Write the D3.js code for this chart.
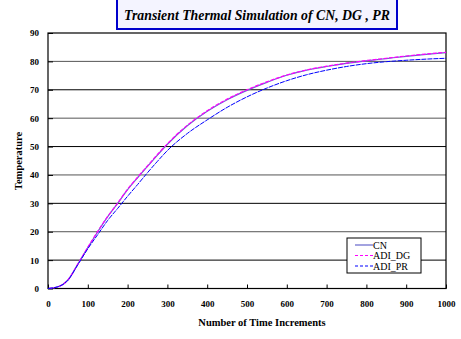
<!DOCTYPE html>
<html>
<head>
<meta charset="utf-8">
<script src="https://cdn.jsdelivr.net/npm/d3@7"></script>
<style>
  body { margin: 0; background: #fff; }
  text { font-family: "Liberation Serif", "Times New Roman", serif; }
</style>
</head>
<body>
<svg id="chart" width="461" height="339"></svg>
<script>
"use strict";

// time increments sampled
const steps = [0, 25, 50, 75, 100, 125, 150, 175, 200, 225, 250, 275, 300, 350, 400,
               450, 500, 550, 600, 650, 700, 750, 800, 850, 900, 950, 1000];

// CN and ADI_DG practically overlap
const cn    = [0, 0.6, 3, 8.6, 14.4, 20, 25.3, 30, 34.8, 39, 43, 47, 50.8, 57.3, 62.4,
               66.5, 69.8, 72.6, 75.1, 76.9, 78.2, 79.3, 80.2, 81.0, 81.8, 82.5, 83.1];
const adiDG = [0, 0.6, 3, 8.6, 14.5, 20.1, 25.4, 30.1, 35, 39.2, 43.2, 47.2, 51, 57.5, 62.6,
               66.7, 70, 72.8, 75.2, 77, 78.3, 79.4, 80.3, 81.1, 81.9, 82.6, 83.2];
const adiPR = [0, 0.6, 2.9, 8.4, 14, 19, 24, 28.2, 32.5, 36.6, 40.8, 44.8, 48.6, 54.6, 59.4,
               63.8, 67.5, 70.6, 73.2, 75.3, 76.9, 78.2, 79.2, 79.9, 80.4, 80.8, 81.1];

const series = [
  { name: "CN",     values: cn,    color: "#6666cc", dash: null,    w: 1.2 },
  { name: "ADI_DG", values: adiDG, color: "#ff00ff", dash: "4,1.5", w: 1.2 },
  { name: "ADI_PR", values: adiPR, color: "#0000ff", dash: "5,1",   w: 1 }
];

const xTicks = [0, 100, 200, 300, 400, 500, 600, 700, 800, 900, 1000];
const yTicks = [0, 10, 20, 30, 40, 50, 60, 70, 80, 90];

const titleText = "Transient Thermal Simulation of CN, DG , PR";
const serif = "Liberation Serif";

const margin = { top: 33, left: 48, right: 15, bottom: 50 };
const W = 461, H = 339;
const width = W - margin.left - margin.right;
const height = H - margin.top - margin.bottom - 0.5;

const svg = d3.select("#chart");
const g = svg.append("g")
    .attr("transform", `translate(${margin.left},${margin.top})`);

// scales
const x = d3.scaleLinear().domain([0, 1000]).range([0, width]);
const y = d3.scaleLinear().domain([0, 90]).range([height, 0]);

// gridlines
g.append("g")
  .selectAll("line")
  .data(yTicks.filter(d => d > 0 && d < 90))
  .enter().append("line")
    .attr("x1", 0).attr("x2", width)
    .attr("y1", d => y(d)).attr("y2", d => y(d))
    .attr("stroke", d => (d / 10) % 2 === 0 ? "#555" : "#000")
    .attr("stroke-width", 1);

// axes
const xAxis = d3.axisBottom(x).tickValues(xTicks).tickFormat(d3.format("d"))
    .tickSizeInner(-4).tickSizeOuter(0).tickPadding(12);
const yAxis = d3.axisLeft(y).tickValues(yTicks).tickFormat(d3.format("d"))
    .tickSizeInner(-5).tickSizeOuter(0).tickPadding(9);

const gx = g.append("g")
    .attr("transform", `translate(0,${height})`)
    .call(xAxis);
const gy = g.append("g").call(yAxis);

[gx, gy].forEach(a => {
  a.attr("font-family", serif);
  a.select(".domain").remove();
  a.selectAll("text")
    .attr("font-family", serif)
    .attr("font-weight", "bold")
    .attr("font-size", 9)
    .attr("fill", "#000");
});

// plot frame
g.append("rect")
    .attr("width", width).attr("height", height)
    .attr("fill", "none")
    .attr("stroke", "#000")
    .attr("stroke-width", 1.2);

// lines
const line = d3.line()
    .curve(d3.curveMonotoneX)
    .x((d, i) => x(steps[i]))
    .y(d => y(d));

g.selectAll(".series")
  .data(series)
  .enter().append("path")
    .attr("class", "series")
    .attr("d", d => line(d.values))
    .attr("fill", "none")
    .attr("stroke", d => d.color)
    .attr("stroke-width", d => d.w)
    .attr("stroke-dasharray", d => d.dash);

// legend
const lg = svg.append("g").attr("transform", "translate(347,238)");
lg.append("rect")
    .attr("width", 74).attr("height", 35)
    .attr("fill", "#fff").attr("stroke", "#000").attr("stroke-width", 1);
series.forEach((s, i) => {
  const yy = 7 + i * 10.5;
  lg.append("line")
      .attr("x1", 8).attr("x2", 26)
      .attr("y1", yy).attr("y2", yy)
      .attr("stroke", s.color)
      .attr("stroke-width", 1.2)
      .attr("stroke-dasharray", s.dash ? "3,2" : null);
  lg.append("text")
      .attr("x", 26).attr("y", yy + 3.5)
      .attr("font-family", serif)
      .attr("font-size", 10)
      .text(s.name);
});

// axis titles
svg.append("text")
    .attr("x", 262).attr("y", 326)
    .attr("text-anchor", "middle")
    .attr("font-family", serif)
    .attr("font-weight", "bold")
    .attr("font-size", 10.5)
    .text("Number of Time Increments");

svg.append("text")
    .attr("transform", "translate(22,161) rotate(-90)")
    .attr("text-anchor", "middle")
    .attr("font-family", serif)
    .attr("font-weight", "bold")
    .attr("font-size", 10.5)
    .text("Temperature");

// title box
svg.append("rect")
    .attr("x", 117).attr("y", -2)
    .attr("width", 280).attr("height", 31)
    .attr("fill", "#f4f4ff")
    .attr("stroke", "#0000cc")
    .attr("stroke-width", 2);
svg.append("text")
    .attr("x", 257).attr("y", 20)
    .attr("text-anchor", "middle")
    .attr("font-family", serif)
    .attr("font-weight", "bold")
    .attr("font-style", "italic")
    .attr("font-size", 13.8)
    .text(titleText);
</script>
</body>
</html>
